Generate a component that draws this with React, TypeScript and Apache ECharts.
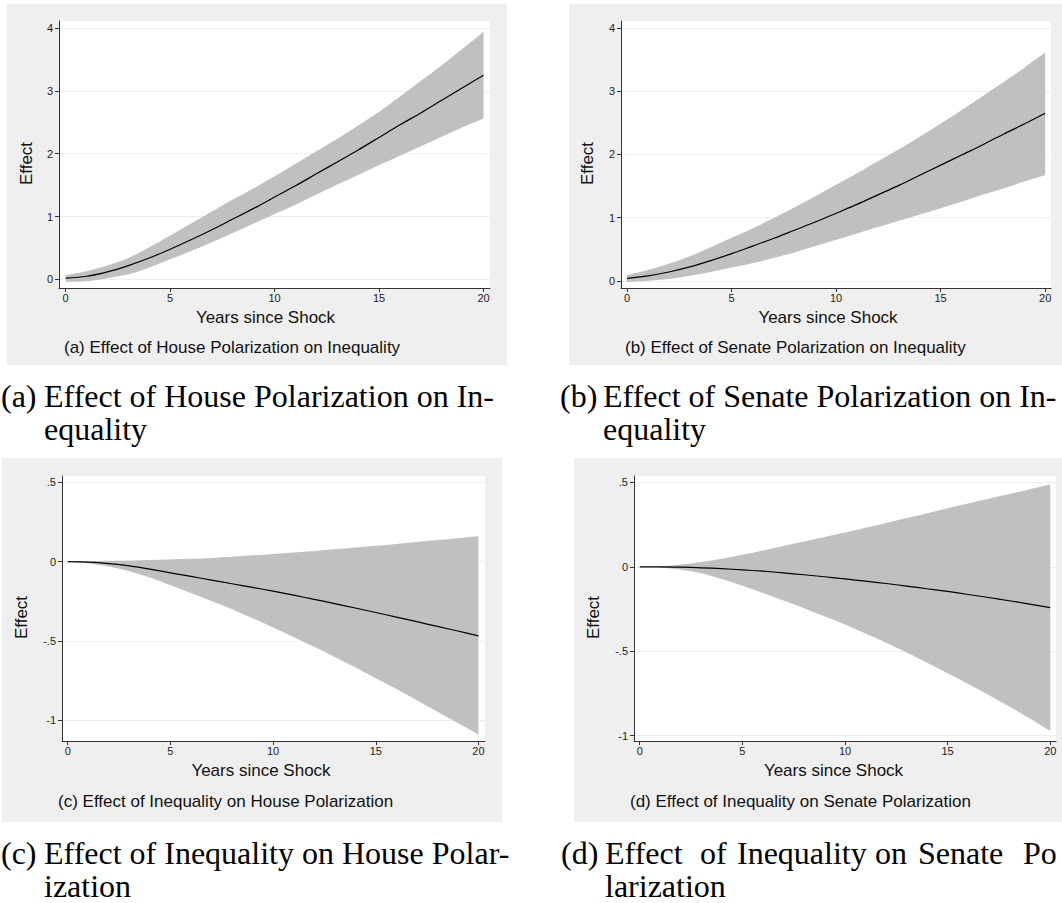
import React, { useEffect, useRef } from "react";
import * as echarts from "echarts";

// ---------- data ----------
const years = [0, 1, 2, 3, 4, 5, 6, 7, 8, 9, 10, 11, 12, 13, 14, 15, 16, 17, 18, 19, 20];

// (a) House polarization -> inequality
const aCoef = [0.02, 0.05, 0.12, 0.22, 0.34, 0.48, 0.63, 0.79, 0.96, 1.13, 1.31, 1.49, 1.68, 1.87, 2.06, 2.26, 2.46, 2.65, 2.85, 3.05, 3.25];
const aUpper = [0.07, 0.13, 0.22, 0.34, 0.51, 0.7, 0.89, 1.08, 1.27, 1.45, 1.64, 1.84, 2.04, 2.24, 2.45, 2.67, 2.91, 3.16, 3.41, 3.67, 3.94];
const aLower = [-0.04, -0.03, 0.02, 0.08, 0.19, 0.32, 0.45, 0.59, 0.74, 0.89, 1.04, 1.19, 1.35, 1.51, 1.66, 1.82, 1.97, 2.12, 2.27, 2.42, 2.56];

// (b) Senate polarization -> inequality
const bCoef = [0.04, 0.08, 0.14, 0.22, 0.32, 0.43, 0.55, 0.67, 0.8, 0.93, 1.07, 1.21, 1.36, 1.51, 1.67, 1.83, 1.99, 2.15, 2.32, 2.48, 2.65];
const bUpper = [0.09, 0.17, 0.27, 0.39, 0.53, 0.68, 0.83, 0.99, 1.16, 1.34, 1.52, 1.7, 1.89, 2.08, 2.28, 2.49, 2.7, 2.92, 3.14, 3.37, 3.61];
const bLower = [-0.02, 0.0, 0.03, 0.08, 0.14, 0.21, 0.28, 0.36, 0.45, 0.55, 0.65, 0.75, 0.85, 0.95, 1.05, 1.15, 1.25, 1.36, 1.46, 1.57, 1.67];

// (c) Inequality -> House polarization
const cCoef = [0, -0.003, -0.012, -0.026, -0.047, -0.07, -0.093, -0.116, -0.139, -0.162, -0.186, -0.211, -0.237, -0.264, -0.292, -0.32, -0.349, -0.378, -0.408, -0.437, -0.467];
const cUpper = [0, 0.003, 0.006, 0.008, 0.011, 0.014, 0.018, 0.024, 0.031, 0.04, 0.049, 0.058, 0.068, 0.078, 0.089, 0.1, 0.112, 0.124, 0.136, 0.148, 0.16];
const cLower = [0, -0.01, -0.03, -0.06, -0.1, -0.148, -0.197, -0.248, -0.3, -0.356, -0.414, -0.474, -0.536, -0.6, -0.666, -0.734, -0.802, -0.873, -0.945, -1.017, -1.09];

// (d) Inequality -> Senate polarization
const dCoef = [0, 0, -0.002, -0.006, -0.011, -0.018, -0.026, -0.036, -0.047, -0.059, -0.072, -0.085, -0.099, -0.114, -0.13, -0.146, -0.164, -0.182, -0.201, -0.221, -0.242];
const dUpper = [0, 0.004, 0.013, 0.028, 0.048, 0.072, 0.097, 0.123, 0.15, 0.177, 0.204, 0.232, 0.26, 0.289, 0.318, 0.347, 0.375, 0.403, 0.431, 0.46, 0.488];
const dLower = [0, -0.004, -0.017, -0.038, -0.072, -0.112, -0.155, -0.2, -0.246, -0.293, -0.342, -0.395, -0.45, -0.508, -0.568, -0.63, -0.694, -0.76, -0.828, -0.898, -0.972];

const xTicks = [0, 5, 10, 15, 20];
const yTicksTop = [0, 1, 2, 3, 4];
const yTicksBottom = [-1, -0.5, 0, 0.5];

const xTitle = "Years since Shock";
const yTitle = "Effect";
const subtitles = [
  "(a) Effect of House Polarization on Inequality",
  "(b) Effect of Senate Polarization on Inequality",
  "(c) Effect of Inequality on House Polarization",
  "(d) Effect of Inequality on Senate Polarization",
];

// ---------- layout / styles ----------
const panels = [
  { coef: aCoef, hi: aUpper, lo: aLower, yTicks: yTicksTop, grid: { left: 59, top: 21, width: 431, height: 267 }, x: [-0.32, 20.31], y: [-0.137, 4.113], bg: [7, 4, 500, 361], sub: [64, 347], yGap: 24, namePad: 18 },
  { coef: bCoef, hi: bUpper, lo: bLower, yTicks: yTicksTop, grid: { left: 621, top: 21, width: 430, height: 267 }, x: [-0.29, 20.28], y: [-0.113, 4.11], bg: [569, 4, 493, 361], sub: [625, 347], yGap: 25, namePad: 16 },
  { coef: cCoef, hi: cUpper, lo: cLower, yTicks: yTicksBottom, grid: { left: 62, top: 476, width: 423, height: 265 }, x: [-0.28, 20.32], y: [-1.13, 0.54], bg: [2, 458, 500, 364], sub: [58, 801], yGap: 32.5, namePad: 25 },
  { coef: dCoef, hi: dUpper, lo: dLower, yTicks: yTicksBottom, grid: { left: 634, top: 476, width: 422, height: 265 }, x: [-0.28, 20.28], y: [-1.032, 0.538], bg: [574, 458, 488, 364], sub: [630, 801], yGap: 32, namePad: 23 },
];

const SANS = "'Liberation Sans', Arial, sans-serif";
const SERIF = "'Liberation Serif', 'Times New Roman', serif";
const PANEL_BG = "#efefef";
const BAND = "#c0c0c0";
const GRIDLINE = "#e9f1f2";
const AXIS = "#333333";
const CAP_FONT = `32px ${SERIF}`;

const captions = [
  { words: [["(a)", 1], ["Effect of House Polarization on In-", 44]], second: ["equality", 44], y: 396, y2: 429 },
  { words: [["(b)", 560], ["Effect of Senate Polarization on In-", 603]], second: ["equality", 603], y: 396, y2: 429 },
  { words: [["(c)", 1], ["Effect of Inequality on House Polar-", 44]], second: ["ization", 44], y: 853, y2: 886 },
  { words: [["(d)", 561], ["Effect", 605], ["of", 700], ["Inequality", 737], ["on", 875], ["Senate", 918], ["Po", 1023]], second: ["larization", 605], y: 853, y2: 886 },
];

const fmt = (v: number) => String(v).replace(/^(-?)0\./, "$1.");

// smooth (Catmull-Rom) path segments through pixel points
function smoothSeg(pts: number[][]): string {
  let d = "";
  for (let i = 0; i < pts.length - 1; i++) {
    const p0 = pts[Math.max(0, i - 1)];
    const p1 = pts[i];
    const p2 = pts[i + 1];
    const p3 = pts[Math.min(pts.length - 1, i + 2)];
    const c1x = p1[0] + (p2[0] - p0[0]) / 6;
    const c1y = p1[1] + (p2[1] - p0[1]) / 6;
    const c2x = p2[0] - (p3[0] - p1[0]) / 6;
    const c2y = p2[1] - (p3[1] - p1[1]) / 6;
    d += ` C${c1x.toFixed(2)},${c1y.toFixed(2)} ${c2x.toFixed(2)},${c2y.toFixed(2)} ${p2[0].toFixed(2)},${p2[1].toFixed(2)}`;
  }
  return d;
}

export default function App() {
  const ref = useRef<HTMLDivElement>(null);
  useEffect(() => {
    if (!ref.current) return;
    const chart = echarts.init(ref.current, undefined, { renderer: "svg" });

    const grid: any[] = [];
    const xAxis: any[] = [];
    const yAxis: any[] = [];
    const series: any[] = [];
    const graphic: any[] = [];

    panels.forEach((p, i) => {
      graphic.push({ type: "rect", z: -10, shape: { x: p.bg[0], y: p.bg[1], width: p.bg[2], height: p.bg[3] }, style: { fill: PANEL_BG } });
      graphic.push({ type: "text", x: p.sub[0], y: p.sub[1], style: { text: subtitles[i], font: `17px ${SANS}`, fill: "#111", textVerticalAlign: "middle" } });
      grid.push({ ...p.grid, show: true, backgroundColor: "#ffffff", borderWidth: 0 });
      xAxis.push({
        type: "value", gridIndex: i, min: p.x[0], max: p.x[1],
        name: xTitle, nameLocation: "middle", nameGap: 21,
        nameTextStyle: { fontFamily: SANS, fontSize: 17, color: "#111", padding: [0, p.namePad, 0, 0] },
        axisLine: { show: true, onZero: false, lineStyle: { color: AXIS, width: 1 } },
        axisTick: { show: true, length: 4, customValues: xTicks, lineStyle: { color: AXIS } },
        axisLabel: { customValues: xTicks, fontFamily: SANS, fontSize: 11, color: "#222", margin: 4 },
        splitLine: { show: false },
      });
      yAxis.push({
        type: "value", gridIndex: i, min: p.y[0], max: p.y[1],
        name: yTitle, nameLocation: "middle", nameGap: p.yGap,
        nameTextStyle: { fontFamily: SANS, fontSize: 17, color: "#111", padding: [0, 18, 0, 0] },
        axisLine: { show: true, onZero: false, lineStyle: { color: AXIS, width: 1 } },
        axisTick: { show: true, length: 4, customValues: p.yTicks, lineStyle: { color: AXIS } },
        axisLabel: { customValues: p.yTicks, fontFamily: SANS, fontSize: 11, color: "#222", margin: 6, formatter: (v: number) => fmt(v) },
        splitLine: { show: true, lineStyle: { color: GRIDLINE, width: 1 } },
      });
      // confidence band: one smooth closed path through the axis scales
      series.push({
        type: "custom", xAxisIndex: i, yAxisIndex: i, silent: true, z: 1,
        data: years.map((x, k) => [x, p.lo[k], p.hi[k]]),
        encode: { x: 0, y: [1, 2] },
        renderItem: (params: any, api: any) => {
          if (params.dataIndex !== 0) return null;
          const up = years.map((x, k) => api.coord([x, p.hi[k]]));
          const low = years.map((x, k) => api.coord([x, p.lo[k]])).reverse();
          const d =
            `M${up[0][0].toFixed(2)},${up[0][1].toFixed(2)}` + smoothSeg(up) +
            ` L${low[0][0].toFixed(2)},${low[0][1].toFixed(2)}` + smoothSeg(low) + " Z";
          return { type: "path", shape: { pathData: d }, style: { fill: BAND, stroke: "none" } };
        },
      });
      series.push({
        type: "line", xAxisIndex: i, yAxisIndex: i,
        data: years.map((x, k) => [x, p.coef[k]]), showSymbol: false, symbol: "none", smooth: 0.3,
        lineStyle: { color: "#000", width: 1.2 }, silent: true, z: 3,
      });
    });

    captions.forEach((c) => {
      c.words.forEach(([t, x]) => {
        graphic.push({ type: "text", x: x as number, y: c.y, style: { text: t as string, font: CAP_FONT, fill: "#000", textVerticalAlign: "middle" } });
      });
      graphic.push({ type: "text", x: c.second[1] as number, y: c.y2, style: { text: c.second[0] as string, font: CAP_FONT, fill: "#000", textVerticalAlign: "middle" } });
    });

    chart.setOption({
      animation: false,
      backgroundColor: "#ffffff",
      grid, xAxis, yAxis, series, graphic,
    });
    return () => chart.dispose();
  }, []);
  return <div ref={ref} style={{ position: "absolute", left: 0, top: 0, width: 1062, height: 903 }} />;
}
